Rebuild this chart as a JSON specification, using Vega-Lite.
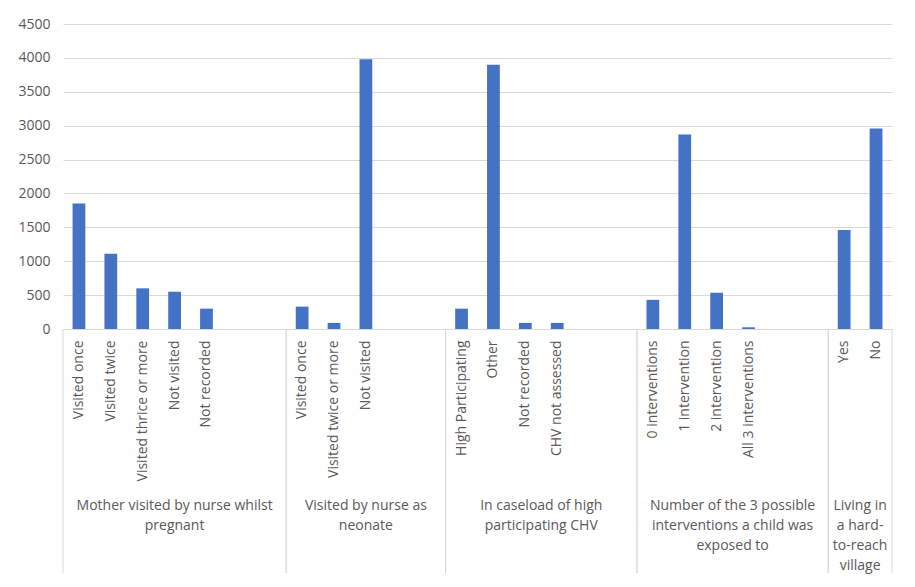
{
  "$schema": "https://vega.github.io/schema/vega-lite/v6.json",
  "width": 829,
  "height": 305,
  "autosize": {"type": "none"},
  "padding": {"left": 63, "top": 24, "right": 23, "bottom": 258},
  "background": "white",
  "config": {
    "font": "Open Sans",
    "view": {"stroke": null},
    "numberFormat": "d",
    "axisY": {
      "title": null,
      "tickCount": 9,
      "domain": false,
      "ticks": false,
      "gridColor": "#d9d9d9",
      "labelColor": "#595959",
      "labelFontSize": 14,
      "labelPadding": 13
    }
  },
  "datasets": {
    "counts": [
      {"slot": "g1|Visited once", "n": 1850},
      {"slot": "g1|Visited twice", "n": 1110},
      {"slot": "g1|Visited thrice or more", "n": 600},
      {"slot": "g1|Not visited", "n": 550},
      {"slot": "g1|Not recorded", "n": 300},
      {"slot": "g2|Visited once", "n": 330},
      {"slot": "g2|Visited twice or more", "n": 90},
      {"slot": "g2|Not visited", "n": 3980},
      {"slot": "g3|High Participating", "n": 300},
      {"slot": "g3|Other", "n": 3900},
      {"slot": "g3|Not recorded", "n": 90},
      {"slot": "g3|CHV not assessed", "n": 90},
      {"slot": "g4|0 interventions", "n": 430},
      {"slot": "g4|1 intervention", "n": 2870},
      {"slot": "g4|2 intervention", "n": 535},
      {"slot": "g4|All 3 interventions", "n": 25},
      {"slot": "g5|Yes", "n": 1460},
      {"slot": "g5|No", "n": 2960}
    ],
    "groups": [
      {"first": "g1|Visited once", "last": "g1 gap2", "mid": "g1|Not visited", "slots": 7, "lines": ["Mother visited by nurse whilst", "pregnant"]},
      {"first": "g2|Visited once", "last": "g2 gap2", "mid": "g2|Not visited", "slots": 5, "lines": ["Visited by nurse as", "neonate"]},
      {"first": "g3|High Participating", "last": "g3 gap2", "mid": "g3|CHV not assessed", "slots": 6, "lines": ["In caseload of high", "participating CHV"]},
      {"first": "g4|0 interventions", "last": "g4 gap2", "mid": "g4|All 3 interventions", "slots": 6, "lines": ["Number of the 3 possible", "interventions a child was", "exposed to"]},
      {"first": "g5|Yes", "last": "g5|No", "mid": "g5|No", "slots": 2, "lines": ["Living in", "a hard-", "to-reach", "village"]}
    ]
  },
  "layer": [
    {
      "data": {"name": "counts"},
      "mark": {"type": "bar", "width": {"band": 0.4}, "color": "#4472c4"},
      "encoding": {
        "x": {
          "field": "slot",
          "type": "nominal",
          "sort": null,
          "scale": {
            "domain": [
              "g1|Visited once", "g1|Visited twice", "g1|Visited thrice or more", "g1|Not visited", "g1|Not recorded", "g1 gap1", "g1 gap2",
              "g2|Visited once", "g2|Visited twice or more", "g2|Not visited", "g2 gap1", "g2 gap2",
              "g3|High Participating", "g3|Other", "g3|Not recorded", "g3|CHV not assessed", "g3 gap1", "g3 gap2",
              "g4|0 interventions", "g4|1 intervention", "g4|2 intervention", "g4|All 3 interventions", "g4 gap1", "g4 gap2",
              "g5|Yes", "g5|No"
            ],
            "paddingInner": 0,
            "paddingOuter": 0
          },
          "axis": {
            "title": null,
            "labelAngle": -90,
            "labelExpr": "indexof(datum.value, '|') > 0 ? split(datum.value, '|')[1] : ''",
            "ticks": false,
            "domainColor": "#d9d9d9",
            "labelColor": "#595959",
            "labelFontSize": 14,
            "labelPadding": 11,
            "labelLimit": 220
          }
        },
        "y": {
          "field": "n",
          "type": "quantitative",
          "scale": {"domain": [0, 4500]}
        }
      }
    },
    {
      "data": {"name": "groups"},
      "mark": {"type": "rule", "color": "#d9d9d9"},
      "encoding": {
        "x": {"field": "first", "type": "nominal", "bandPosition": 0},
        "y": {"datum": 0},
        "y2": {"datum": -3600}
      }
    },
    {
      "data": {"name": "groups"},
      "mark": {"type": "rule", "color": "#d9d9d9"},
      "encoding": {
        "x": {"field": "last", "type": "nominal", "bandPosition": 1},
        "y": {"datum": 0},
        "y2": {"datum": -3600}
      }
    },
    {
      "data": {"name": "groups"},
      "transform": [{"filter": "datum.slots % 2 == 1"}],
      "mark": {"type": "text", "baseline": "top", "align": "center", "fontSize": 14, "color": "#595959", "lineHeight": 20},
      "encoding": {
        "x": {"field": "mid", "type": "nominal", "bandPosition": 0.5},
        "y": {"datum": -2515},
        "text": {"field": "lines"}
      }
    },
    {
      "data": {"name": "groups"},
      "transform": [{"filter": "datum.slots % 2 == 0"}],
      "mark": {"type": "text", "baseline": "top", "align": "center", "fontSize": 14, "color": "#595959", "lineHeight": 20},
      "encoding": {
        "x": {"field": "mid", "type": "nominal", "bandPosition": 0},
        "y": {"datum": -2515},
        "text": {"field": "lines"}
      }
    }
  ]
}
